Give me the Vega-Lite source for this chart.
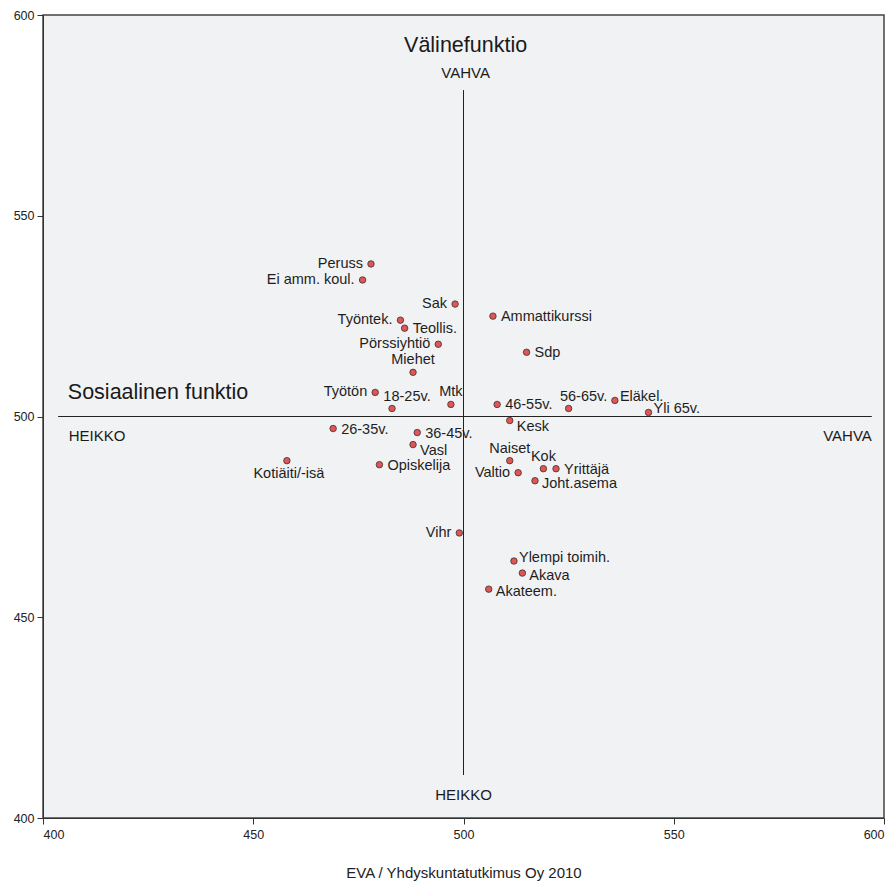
{
  "$schema": "https://vega.github.io/schema/vega-lite/v6.json",
  "width": 841,
  "height": 803,
  "autosize": "none",
  "padding": {"left": 43, "top": 15, "right": 12, "bottom": 66},
  "background": "white",
  "config": {
    "view": {"fill": "#f1f2f4", "stroke": "#444444", "strokeWidth": 1.5},
    "font": "Liberation Sans",
    "axis": {
      "grid": false,
      "domainColor": "#333333",
      "tickColor": "#333333",
      "tickSize": 6,
      "labelFont": "Liberation Sans",
      "labelFontSize": 12.5,
      "labelColor": "#222222",
      "titleFont": "Liberation Sans",
      "titleFontSize": 15,
      "titleFontWeight": "normal",
      "titleColor": "#222222"
    }
  },
  "datasets": {
    "pts": [
      {"label": "Peruss", "sos": 478, "vali": 538, "pos": "left"},
      {"label": "Ei amm. koul.", "sos": 476, "vali": 534, "pos": "left"},
      {"label": "Sak", "sos": 498, "vali": 528, "pos": "left"},
      {"label": "Ammattikurssi", "sos": 507, "vali": 525, "pos": "right"},
      {"label": "Työntek.", "sos": 485, "vali": 524, "pos": "left"},
      {"label": "Teollis.", "sos": 486, "vali": 522, "pos": "right"},
      {"label": "Pörssiyhtiö", "sos": 494, "vali": 518, "pos": "left"},
      {"label": "Sdp", "sos": 515, "vali": 516, "pos": "right"},
      {"label": "Miehet", "sos": 488, "vali": 511, "pos": "above"},
      {"label": "Työtön", "sos": 479, "vali": 506, "pos": "left"},
      {"label": "Mtk", "sos": 497, "vali": 503, "pos": "above"},
      {"label": "18-25v.", "sos": 483, "vali": 502, "pos": "aboveright"},
      {"label": "46-55v.", "sos": 508, "vali": 503, "pos": "right"},
      {"label": "56-65v.", "sos": 525, "vali": 502, "pos": "aboveright"},
      {"label": "Eläkel.", "sos": 536, "vali": 504, "pos": "rightabove"},
      {"label": "Yli 65v.", "sos": 544, "vali": 501, "pos": "rightabove"},
      {"label": "Kesk", "sos": 511, "vali": 499, "pos": "rightbelow"},
      {"label": "26-35v.", "sos": 469, "vali": 497, "pos": "right"},
      {"label": "36-45v.", "sos": 489, "vali": 496, "pos": "right"},
      {"label": "Vasl", "sos": 488, "vali": 493, "pos": "rightbelow"},
      {"label": "Naiset", "sos": 511, "vali": 489, "pos": "above"},
      {"label": "Opiskelija", "sos": 480, "vali": 488, "pos": "right"},
      {"label": "Kok", "sos": 519, "vali": 487, "pos": "above"},
      {"label": "Yrittäjä", "sos": 522, "vali": 487, "pos": "right"},
      {"label": "Valtio", "sos": 513, "vali": 486, "pos": "left"},
      {"label": "Joht.asema", "sos": 517, "vali": 484, "pos": "rightlow"},
      {"label": "Kotiäiti/-isä", "sos": 458, "vali": 489, "pos": "below"},
      {"label": "Vihr", "sos": 499, "vali": 471, "pos": "left"},
      {"label": "Ylempi toimih.", "sos": 512, "vali": 464, "pos": "rightabove"},
      {"label": "Akava", "sos": 514, "vali": 461, "pos": "rightlow"},
      {"label": "Akateem.", "sos": 506, "vali": 457, "pos": "rightlow"}
    ],
    "vline": [{"x": 500, "y": 410.7, "y2": 581.3}],
    "hline": [{"x": 403.6, "x2": 597.1, "y": 500}],
    "titles": [
      {"text": "Välinefunktio", "x": 500.5, "y": 592.3, "align": "center"},
      {"text": "Sosiaalinen funktio", "x": 405.9, "y": 505.9, "align": "left"}
    ],
    "ends": [
      {"text": "VAHVA", "x": 500.5, "y": 585.6, "align": "center"},
      {"text": "HEIKKO", "x": 500, "y": 405.7, "align": "center"},
      {"text": "HEIKKO", "x": 406.1, "y": 495.1, "align": "left"},
      {"text": "VAHVA", "x": 597.1, "y": 495.1, "align": "right"}
    ]
  },
  "layer": [
    {
      "data": {"name": "vline"},
      "mark": {"type": "rule", "color": "#222222", "strokeWidth": 1},
      "encoding": {
        "x": {"field": "x", "type": "quantitative", "scale": {"domain": [400, 600]}, "axis": {"values": [400, 450, 500, 550, 600], "title": "EVA / Yhdyskuntatutkimus Oy 2010", "titlePadding": 25, "labelPadding": 4}},
        "y": {"field": "y", "type": "quantitative", "scale": {"domain": [400, 600]}, "axis": {"values": [400, 450, 500, 550, 600], "title": null, "labelPadding": 3}},
        "y2": {"field": "y2"}
      }
    },
    {
      "data": {"name": "hline"},
      "mark": {"type": "rule", "color": "#222222", "strokeWidth": 1},
      "encoding": {
        "x": {"field": "x", "type": "quantitative"},
        "x2": {"field": "x2"},
        "y": {"field": "y", "type": "quantitative"}
      }
    },
    {
      "data": {"name": "titles"},
      "transform": [{"filter": "datum.align === 'center'"}],
      "mark": {"type": "text", "fontSize": 21.5, "color": "#1a1a1a", "baseline": "middle", "align": "center"},
      "encoding": {
        "x": {"field": "x", "type": "quantitative"},
        "y": {"field": "y", "type": "quantitative"},
        "text": {"field": "text"}
      }
    },
    {
      "data": {"name": "titles"},
      "transform": [{"filter": "datum.align === 'left'"}],
      "mark": {"type": "text", "fontSize": 21.5, "color": "#1a1a1a", "baseline": "middle", "align": "left"},
      "encoding": {
        "x": {"field": "x", "type": "quantitative"},
        "y": {"field": "y", "type": "quantitative"},
        "text": {"field": "text"}
      }
    },
    {
      "data": {"name": "ends"},
      "transform": [{"filter": "datum.align === 'center'"}],
      "mark": {"type": "text", "fontSize": 15, "color": "#1a1a1a", "baseline": "middle", "align": "center"},
      "encoding": {
        "x": {"field": "x", "type": "quantitative"},
        "y": {"field": "y", "type": "quantitative"},
        "text": {"field": "text"}
      }
    },
    {
      "data": {"name": "ends"},
      "transform": [{"filter": "datum.align === 'left'"}],
      "mark": {"type": "text", "fontSize": 15, "color": "#1a1a1a", "baseline": "middle", "align": "left"},
      "encoding": {
        "x": {"field": "x", "type": "quantitative"},
        "y": {"field": "y", "type": "quantitative"},
        "text": {"field": "text"}
      }
    },
    {
      "data": {"name": "ends"},
      "transform": [{"filter": "datum.align === 'right'"}],
      "mark": {"type": "text", "fontSize": 15, "color": "#1a1a1a", "baseline": "middle", "align": "right"},
      "encoding": {
        "x": {"field": "x", "type": "quantitative"},
        "y": {"field": "y", "type": "quantitative"},
        "text": {"field": "text"}
      }
    },
    {
      "data": {"name": "pts"},
      "mark": {"type": "point", "filled": true, "fill": "#e05555", "stroke": "#333333", "strokeWidth": 0.8, "size": 42, "opacity": 1},
      "encoding": {
        "x": {"field": "sos", "type": "quantitative"},
        "y": {"field": "vali", "type": "quantitative"}
      }
    },
    {
      "data": {"name": "pts"},
      "transform": [{"filter": "datum.pos === 'left'"}],
      "mark": {"type": "text", "fontSize": 14.5, "color": "#1e1e1e", "align": "right", "baseline": "middle", "dx": -8},
      "encoding": {
        "x": {"field": "sos", "type": "quantitative"},
        "y": {"field": "vali", "type": "quantitative"},
        "text": {"field": "label"}
      }
    },
    {
      "data": {"name": "pts"},
      "transform": [{"filter": "datum.pos === 'right'"}],
      "mark": {"type": "text", "fontSize": 14.5, "color": "#1e1e1e", "align": "left", "baseline": "middle", "dx": 8, "dy": 1},
      "encoding": {
        "x": {"field": "sos", "type": "quantitative"},
        "y": {"field": "vali", "type": "quantitative"},
        "text": {"field": "label"}
      }
    },
    {
      "data": {"name": "pts"},
      "transform": [{"filter": "datum.pos === 'rightbelow'"}],
      "mark": {"type": "text", "fontSize": 14.5, "color": "#1e1e1e", "align": "left", "baseline": "middle", "dx": 7, "dy": 6},
      "encoding": {
        "x": {"field": "sos", "type": "quantitative"},
        "y": {"field": "vali", "type": "quantitative"},
        "text": {"field": "label"}
      }
    },
    {
      "data": {"name": "pts"},
      "transform": [{"filter": "datum.pos === 'rightlow'"}],
      "mark": {"type": "text", "fontSize": 14.5, "color": "#1e1e1e", "align": "left", "baseline": "middle", "dx": 7, "dy": 3},
      "encoding": {
        "x": {"field": "sos", "type": "quantitative"},
        "y": {"field": "vali", "type": "quantitative"},
        "text": {"field": "label"}
      }
    },
    {
      "data": {"name": "pts"},
      "transform": [{"filter": "datum.pos === 'rightabove'"}],
      "mark": {"type": "text", "fontSize": 14.5, "color": "#1e1e1e", "align": "left", "baseline": "middle", "dx": 5, "dy": -3},
      "encoding": {
        "x": {"field": "sos", "type": "quantitative"},
        "y": {"field": "vali", "type": "quantitative"},
        "text": {"field": "label"}
      }
    },
    {
      "data": {"name": "pts"},
      "transform": [{"filter": "datum.pos === 'above'"}],
      "mark": {"type": "text", "fontSize": 14.5, "color": "#1e1e1e", "align": "center", "baseline": "middle", "dy": -12},
      "encoding": {
        "x": {"field": "sos", "type": "quantitative"},
        "y": {"field": "vali", "type": "quantitative"},
        "text": {"field": "label"}
      }
    },
    {
      "data": {"name": "pts"},
      "transform": [{"filter": "datum.pos === 'aboveright'"}],
      "mark": {"type": "text", "fontSize": 14.5, "color": "#1e1e1e", "align": "center", "baseline": "middle", "dx": 15, "dy": -11},
      "encoding": {
        "x": {"field": "sos", "type": "quantitative"},
        "y": {"field": "vali", "type": "quantitative"},
        "text": {"field": "label"}
      }
    },
    {
      "data": {"name": "pts"},
      "transform": [{"filter": "datum.pos === 'below'"}],
      "mark": {"type": "text", "fontSize": 14.5, "color": "#1e1e1e", "align": "center", "baseline": "middle", "dx": 2, "dy": 13},
      "encoding": {
        "x": {"field": "sos", "type": "quantitative"},
        "y": {"field": "vali", "type": "quantitative"},
        "text": {"field": "label"}
      }
    }
  ]
}
